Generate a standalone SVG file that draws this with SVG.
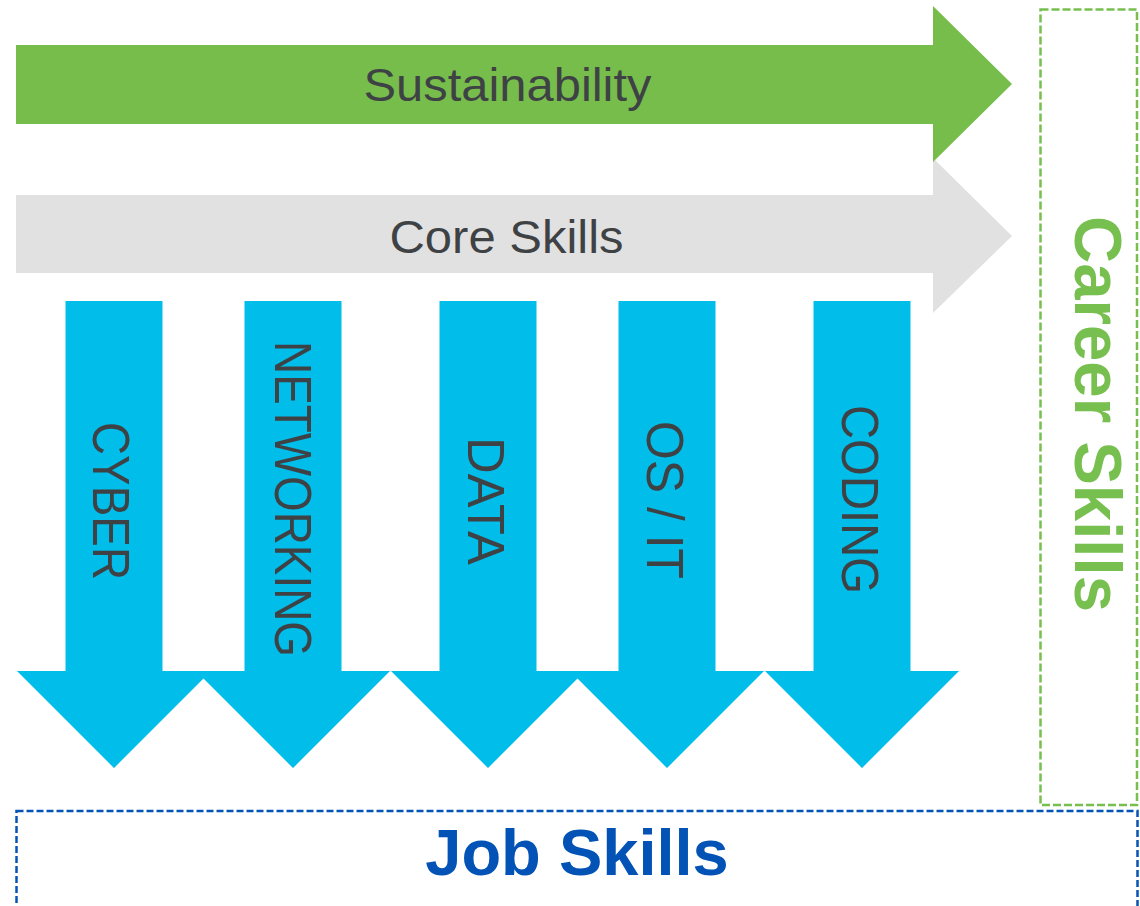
<svg xmlns="http://www.w3.org/2000/svg" width="1140" height="906" viewBox="0 0 1140 906">
  <style>
    .lbl { font-family: "Liberation Sans", Arial, sans-serif; fill: #3f4244; }
    .down { fill: #00bdea; }
    .vt { font-family: "Liberation Sans", Arial, sans-serif; fill: #3f4244; font-size: 52px; }
    .big { font-family: "Liberation Sans", Arial, sans-serif; font-weight: bold; }
  </style>
  <rect width="1140" height="906" fill="#ffffff"/>

  <g id="core-skills">
    <polygon points="16,195 933,195 933,158 1012,236 933,313 933,273 16,273" fill="#e1e1e1"/>
    <text class="lbl" x="506.5" y="253" font-size="47" text-anchor="middle" textLength="234" lengthAdjust="spacingAndGlyphs">Core Skills</text>
  </g>

  <g id="sustainability">
    <polygon points="16,45 933,45 933,6 1012,84 933,162 933,124 16,124" fill="#76bd4c"/>
    <text class="lbl" x="507.5" y="101" font-size="47" text-anchor="middle" textLength="288" lengthAdjust="spacingAndGlyphs">Sustainability</text>
  </g>

  <g id="cyber">
    <polygon class="down" points="65.5,301 162.5,301 162.5,671 211,671 114,768 17,671 65.5,671"/>
    <text class="vt" transform="translate(93,501) rotate(90)" text-anchor="middle" textLength="158" lengthAdjust="spacingAndGlyphs">CYBER</text>
  </g>

  <g id="networking">
    <polygon class="down" points="244.5,301 341.5,301 341.5,671 390,671 293,768 196,671 244.5,671"/>
    <text class="vt" transform="translate(275,499) rotate(90)" text-anchor="middle" textLength="316" lengthAdjust="spacingAndGlyphs">NETWORKING</text>
  </g>

  <g id="data">
    <polygon class="down" points="439.5,301 536.5,301 536.5,671 585,671 488,768 391,671 439.5,671"/>
    <text class="vt" transform="translate(467.5,501) rotate(90)" text-anchor="middle" textLength="128" lengthAdjust="spacingAndGlyphs">DATA</text>
  </g>

  <g id="os-it">
    <polygon class="down" points="618.5,301 715.5,301 715.5,671 764,671 667,768 570,671 618.5,671"/>
    <text class="vt" transform="translate(647,500) rotate(90)" text-anchor="middle" textLength="158" lengthAdjust="spacingAndGlyphs">OS / IT</text>
  </g>

  <g id="coding">
    <polygon class="down" points="813.5,301 910.5,301 910.5,671 959,671 862,768 765,671 813.5,671"/>
    <text class="vt" transform="translate(842,499.5) rotate(90)" text-anchor="middle" textLength="189" lengthAdjust="spacingAndGlyphs">CODING</text>
  </g>

  <g id="career-skills">
    <rect x="1040.5" y="9.5" width="96.5" height="795.5" fill="none" stroke="#77c04f" stroke-width="2.5" stroke-dasharray="8 3"/>
    <text class="big" transform="translate(1075,414) rotate(90)" font-size="66" fill="#77c04f" text-anchor="middle" textLength="396" lengthAdjust="spacingAndGlyphs">Career Skills</text>
  </g>

  <g id="job-skills">
    <rect x="16.5" y="811" width="1121" height="130" fill="none" stroke="#0454b6" stroke-width="2.5" stroke-dasharray="7 3"/>
    <text class="big" x="577" y="875" font-size="65" fill="#0352b5" text-anchor="middle">Job Skills</text>
  </g>

  <g id="connectors"></g>
</svg>
